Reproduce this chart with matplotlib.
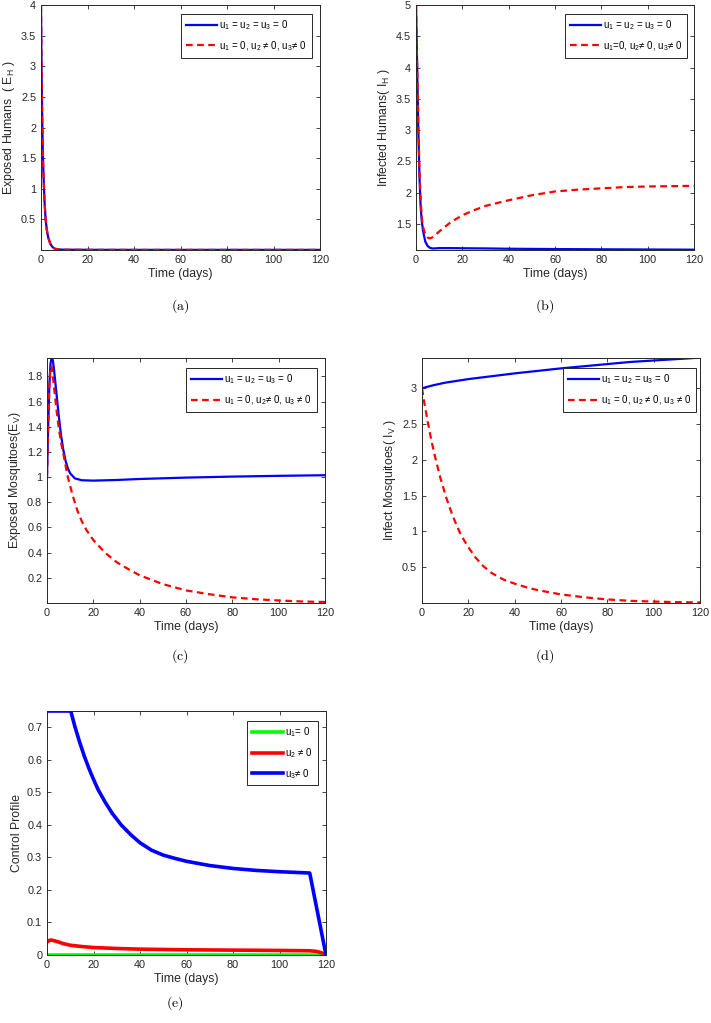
import matplotlib
matplotlib.use("Agg")
import matplotlib.pyplot as plt

plt.rcParams['font.family'] = ['Liberation Sans', 'DejaVu Sans']
plt.rcParams['mathtext.fontset'] = 'custom'
plt.rcParams['mathtext.rm'] = 'Liberation Sans'
plt.rcParams['mathtext.it'] = 'Liberation Sans'
plt.rcParams['mathtext.bf'] = 'Liberation Sans:bold'

# (a) exposed humans
t_a = [0, 0.25, 0.5, 0.75, 1, 1.5, 2, 2.5, 3, 4, 5, 6, 8, 10, 20, 40, 60, 80, 100, 120]
eh_none = [4.0, 2.9, 2.2, 1.65, 1.3, 0.8, 0.5, 0.33, 0.22, 0.1, 0.045, 0.02, 0.008, 0.005, 0.003, 0.002, 0.002, 0.002, 0.002, 0.002]
eh_ctrl = [4.0, 2.9, 2.2, 1.65, 1.3, 0.8, 0.5, 0.33, 0.22, 0.1, 0.045, 0.02, 0.008, 0.005, 0.003, 0.002, 0.002, 0.002, 0.002, 0.002]

# (b) infected humans
t_b1 = [0, 0.5, 1, 1.5, 2, 2.5, 3, 4, 5, 6, 7, 8, 10, 15, 20, 30, 40, 60, 80, 100, 120]
ih_none = [5.0, 4.0, 3.0, 2.25, 1.78, 1.55, 1.4, 1.22, 1.15, 1.12, 1.11, 1.11, 1.115, 1.115, 1.113, 1.11, 1.105, 1.1, 1.096, 1.093, 1.09]
t_b2 = [0, 0.5, 1, 1.5, 2, 2.5, 3, 4, 5, 6, 7, 8, 10, 12, 15, 20, 25, 30, 40, 50, 60, 70, 80, 90, 100, 120]
ih_ctrl = [5.0, 4.05, 3.1, 2.35, 1.9, 1.6, 1.46, 1.33, 1.285, 1.27, 1.285, 1.315, 1.38, 1.44, 1.53, 1.64, 1.72, 1.79, 1.88, 1.96, 2.02, 2.05, 2.07, 2.09, 2.1, 2.11]

# (c) exposed mosquitoes
t_c1 = [0, 0.5, 1, 1.5, 2, 2.5, 3, 4, 5, 6, 7, 8, 9, 10, 12, 15, 20, 30, 40, 60, 80, 100, 120]
ev_none = [1.0, 1.4, 1.72, 1.9, 1.95, 1.93, 1.86, 1.68, 1.5, 1.34, 1.22, 1.13, 1.07, 1.03, 0.99, 0.975, 0.972, 0.977, 0.985, 0.996, 1.004, 1.01, 1.015]
t_c2 = [0, 0.5, 1, 1.5, 2, 3, 4, 5, 6, 7, 9, 11, 13, 15, 17, 20, 25, 30, 35, 40, 50, 60, 70, 80, 90, 100, 110, 120]
ev_ctrl = [1.0, 1.4, 1.72, 1.88, 1.88, 1.72, 1.55, 1.4, 1.28, 1.19, 1.0, 0.86, 0.74, 0.65, 0.58, 0.5, 0.4, 0.325, 0.27, 0.22, 0.15, 0.1, 0.07, 0.045, 0.03, 0.02, 0.012, 0.008]

# (d) infected mosquitoes
t_d1 = [0, 2, 5, 10, 20, 30, 40, 50, 60, 70, 80, 90, 100, 110, 120]
iv_none = [3.0, 3.02, 3.045, 3.08, 3.13, 3.17, 3.21, 3.245, 3.28, 3.31, 3.34, 3.37, 3.39, 3.41, 3.43]
t_d2 = [0, 1, 2.5, 4, 5.6, 8, 10.6, 13, 15, 17, 20, 23, 26.3, 30, 35, 40, 46, 50, 60, 70, 80, 90, 100, 110, 120]
iv_ctrl = [3.0, 2.8, 2.53, 2.28, 2.05, 1.74, 1.46, 1.24, 1.08, 0.94, 0.78, 0.64, 0.52, 0.42, 0.33, 0.27, 0.21, 0.18, 0.12, 0.08, 0.05, 0.03, 0.02, 0.012, 0.008]

# (e) control profiles
t_u1 = [0, 120]
u1 = [0, 0]
t_u2 = [0, 1, 2, 3, 5, 7, 10, 15, 20, 30, 40, 60, 80, 100, 113, 116, 118, 120]
u2 = [0.04, 0.045, 0.046, 0.044, 0.04, 0.035, 0.03, 0.026, 0.023, 0.02, 0.018, 0.016, 0.015, 0.014, 0.013, 0.011, 0.007, 0.0]
t_u3 = [0, 10.2, 12, 14, 16, 18, 20, 22, 25, 28, 32, 36, 40, 45, 50, 55, 60, 70, 80, 90, 100, 113, 120]
u3 = [0.75, 0.75, 0.702, 0.655, 0.612, 0.574, 0.54, 0.508, 0.47, 0.436, 0.399, 0.37, 0.345, 0.322, 0.307, 0.297, 0.288, 0.275, 0.266, 0.26, 0.256, 0.252, 0.0]

lab_none = 'u$_1$ = u$_2$ = u$_3$ = 0'
xticks = [0, 20, 40, 60, 80, 100, 120]

W, H = 711, 1023
fig = plt.figure(figsize=(W / 100, H / 100), dpi=100)


def make_axes(x0, x1, y0, y1):
    ax = fig.add_axes([x0 / W, 1 - y1 / H, (x1 - x0) / W, (y1 - y0) / H])
    ax.tick_params(direction='in', top=True, right=True, labelsize=7.8,
                   colors='0.15', length=3, width=0.6)
    for s in ax.spines.values():
        s.set_color('0.15')
        s.set_linewidth(0.7)
    ax.set_xlim(0, 120)
    ax.set_xticks(xticks)
    ax.set_xlabel('Time (days)', fontsize=8.8, color='0.15', labelpad=2)
    return ax


def style_legend(ax, loc_box):
    leg = ax.legend(loc='upper right', bbox_to_anchor=loc_box, fontsize=7,
                    fancybox=False, edgecolor='0.15', framealpha=1,
                    handlelength=3.2, handletextpad=0.2, borderpad=0.5,
                    labelspacing=0.7, borderaxespad=0)
    leg.get_frame().set_linewidth(0.7)
    return leg


def caption(x, y, s):
    fig.text(x / W, 1 - y / H, '$\\mathrm{(' + s + ')}$', fontsize=10,
             math_fontfamily='cm', ha='center', va='center')


# (a)
ax = make_axes(41, 320, 5, 250)
ax.plot(t_a, eh_none, color='b', lw=1.6, label=lab_none)
ax.plot(t_a, eh_ctrl, color='r', lw=1.6, ls=(0, (3, 2)), label='u$_1$ = 0, u$_2$ ≠ 0, u$_3$≠ 0')
ax.set_ylim(0, 4)
ax.set_yticks([0.5, 1, 1.5, 2, 2.5, 3, 3.5, 4])
ax.set_yticklabels(['0.5', '1', '1.5', '2', '2.5', '3', '3.5', '4'])
ax.set_ylabel('Exposed Humans  ( E$_H$ )', fontsize=8.8, color='0.15', labelpad=3)
style_legend(ax, (0.97, 0.965))
caption(180, 306, 'a')

# (b)
ax = make_axes(416, 694, 5, 250)
ax.plot(t_b1, ih_none, color='b', lw=1.6, label=lab_none)
ax.plot(t_b2, ih_ctrl, color='r', lw=1.6, ls=(0, (3, 2)), label='u$_1$=0, u$_2$≠ 0, u$_3$≠ 0')
ax.set_ylim(1.085, 5)
ax.set_yticks([1.5, 2, 2.5, 3, 3.5, 4, 4.5, 5])
ax.set_yticklabels(['1.5', '2', '2.5', '3', '3.5', '4', '4.5', '5'])
ax.set_ylabel('Infected Humans( I$_H$ )', fontsize=8.8, color='0.15', labelpad=3)
style_legend(ax, (0.975, 0.965))
caption(545, 306, 'b')

# (c)
ax = make_axes(47, 325, 358, 603)
ax.plot(t_c1, ev_none, color='b', lw=1.6, label=lab_none)
ax.plot(t_c2, ev_ctrl, color='r', lw=1.6, ls=(0, (3, 2)), label='u$_1$ = 0, u$_2$≠ 0, u$_3$ ≠ 0')
ax.set_ylim(0, 1.946)
ax.set_yticks([0.2, 0.4, 0.6, 0.8, 1, 1.2, 1.4, 1.6, 1.8])
ax.set_yticklabels(['0.2', '0.4', '0.6', '0.8', '1', '1.2', '1.4', '1.6', '1.8'])
ax.set_ylabel('Exposed Mosquitoes(E$_V$)', fontsize=8.8, color='0.15', labelpad=3)
style_legend(ax, (0.97, 0.96))
caption(180, 656, 'c')

# (d)
ax = make_axes(422, 700, 358, 603)
ax.plot(t_d1, iv_none, color='b', lw=1.6, label=lab_none)
ax.plot(t_d2, iv_ctrl, color='r', lw=1.6, ls=(0, (3, 2)), label='u$_1$ = 0, u$_2$ ≠ 0, u$_3$ ≠ 0')
ax.set_ylim(0, 3.425)
ax.set_yticks([0.5, 1, 1.5, 2, 2.5, 3])
ax.set_yticklabels(['0.5', '1', '1.5', '2', '2.5', '3'])
ax.set_ylabel('Infect Mosquitoes( I$_V$ )', fontsize=8.8, color='0.15', labelpad=3)
style_legend(ax, (0.985, 0.96))
caption(545, 656, 'd')

# (e)
ax = make_axes(47, 326, 711, 955)
ax.plot(t_u1, u1, color='#00ff00', lw=2.6, label='u$_1$= 0')
ax.plot(t_u2, u2, color='#ff0000', lw=2.6, label='u$_2$ ≠ 0')
ax.plot(t_u3, u3, color='#0000ff', lw=2.6, label='u$_3$≠ 0')
ax.set_ylim(0, 0.75)
ax.set_yticks([0, 0.1, 0.2, 0.3, 0.4, 0.5, 0.6, 0.7])
ax.set_yticklabels(['0', '0.1', '0.2', '0.3', '0.4', '0.5', '0.6', '0.7'])
ax.set_ylabel('Control Profile', fontsize=8.8, color='0.15', labelpad=3)
style_legend(ax, (0.97, 0.96))
caption(175, 1003, 'e')

fig.savefig('out.png', dpi=100)
